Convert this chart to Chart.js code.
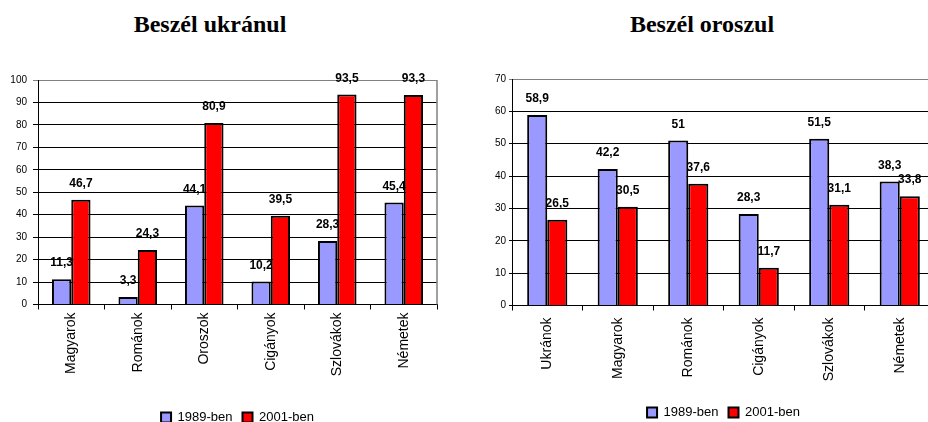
<!DOCTYPE html>
<html lang="hu">
<head>
<meta charset="UTF-8">
<title>Beszél ukránul / Beszél oroszul</title>
<script src="https://cdn.jsdelivr.net/npm/chart.js"></script>
<style>
    body { margin: 0; width: 928px; height: 422px; overflow: hidden; background: #fff; position: relative; }
    .title { position: absolute; top: 10px; line-height: 28px; font-family: "Liberation Serif", "Times New Roman", serif;
             font-weight: bold; font-size: 24px; white-space: nowrap; transform: translateX(-50%); color: #000; }
    .box { position: absolute; top: 0; }
</style>
</head>
<body>
<div class="title" style="left:210px">Beszél ukránul</div>
<div class="title" style="left:702px">Beszél oroszul</div>
<div class="box" style="left:0;width:464px;height:434px"><canvas id="ukranul"></canvas></div>
<div class="box" style="left:464px;width:471px;height:429px"><canvas id="oroszul"></canvas></div>

<script>
// Beszél ukránul
const ukrCategories = ['Magyarok', 'Románok', 'Oroszok', 'Cigányok', 'Szlovákok', 'Németek'];
const ukr1989 = [11.3, 3.3, 44.1, 10.2, 28.3, 45.4];
const ukr2001 = [46.7, 24.3, 80.9, 39.5, 93.5, 93.3];

// Beszél oroszul
const oroCategories = ['Ukránok', 'Magyarok', 'Románok', 'Cigányok', 'Szlovákok', 'Németek'];
const oro1989 = [58.9, 42.2, 51, 28.3, 51.5, 38.3];
const oro2001 = [26.5, 30.5, 37.6, 11.7, 31.1, 33.8];

const seriesNames = ['1989-ben', '2001-ben'];
const FONT = 'Arial, "Liberation Sans", sans-serif';

function drawValues(chart, index) {
    const ctx = chart.ctx;
    const ds = chart.data.datasets[index];
    const meta = chart.getDatasetMeta(index);
    ctx.save();
    ctx.font = 'bold 12px ' + FONT;
    ctx.fillStyle = '#000';
    ctx.textAlign = 'center';
    ctx.textBaseline = 'middle';
    meta.data.forEach((bar, i) => {
        ctx.fillText(String(ds.data[i]).replace('.', ','), bar.x, bar.y - 16);
    });
    ctx.restore();
}

// value labels: one series is written under the bars (partly hidden, as in the original), the other on top
const barLabels = {
    id: 'barLabels',
    beforeDatasetsDraw(chart, args, opts) {
        drawValues(chart, opts.under);
    },
    afterDatasetsDraw(chart, args, opts) {
        drawValues(chart, 1 - opts.under);
    }
};

// grey plot border on the right side
const plotFrame = {
    id: 'plotFrame',
    beforeDatasetsDraw(chart) {
        const a = chart.chartArea, ctx = chart.ctx;
        ctx.save();
        ctx.strokeStyle = '#808080';
        ctx.lineWidth = 1.5;
        ctx.beginPath();
        ctx.moveTo(a.right, a.top);
        ctx.lineTo(a.right, a.bottom);
        ctx.stroke();
        ctx.restore();
    }
};

function makeChart(id, cats, v1989, v2001, o) {
    new Chart(document.getElementById(id), {
        type: 'bar',
        data: {
            labels: cats,
            datasets: [
                { label: seriesNames[0], data: v1989, backgroundColor: '#9999ff', borderColor: '#000', borderWidth: 2 },
                { label: seriesNames[1], data: v2001, backgroundColor: '#ff0000', borderColor: '#000', borderWidth: 2 }
            ]
        },
        options: {
            responsive: true,
            maintainAspectRatio: false,
            animation: false,
            layout: { padding: { top: o.top, right: o.right, left: 0, bottom: 0 } },
            datasets: { bar: { categoryPercentage: o.cat, barPercentage: 1 } },
            plugins: {
                tooltip: { enabled: false },
                barLabels: { under: o.under },
                legend: {
                    position: 'bottom',
                    fullSize: false,
                    labels: { boxWidth: 10, boxHeight: 10, padding: 10, color: '#000', font: { family: FONT, size: 13 } }
                }
            },
            scales: {
                x: {
                    grid: { drawOnChartArea: false, drawTicks: true, tickLength: 5, color: '#000' },
                    border: { color: '#000', width: 1 },
                    ticks: { minRotation: 90, maxRotation: 90, padding: o.xpad, color: '#000', font: { family: FONT, size: 14 } },
                    afterFit: s => { s.height = o.xh; }
                },
                y: {
                    min: 0,
                    max: o.max,
                    grid: {
                        color: c => (c.tick && c.tick.value === o.max) ? '#808080' : '#000',
                        lineWidth: 1,
                        tickLength: o.ytl
                    },
                    border: { color: '#000', width: 1 },
                    ticks: { stepSize: 10, padding: o.ypad, color: '#000', font: { family: FONT, size: 10 } },
                    afterFit: s => { s.width = o.yw; }
                }
            }
        },
        plugins: [barLabels, plotFrame]
    });
}

makeChart('ukranul', ukrCategories, ukr1989, ukr2001,
    { under: 0, top: 80, right: 27, cat: 0.58, max: 100, xh: 96.5, xpad: 3, yw: 38, ytl: 5, ypad: 6 });
makeChart('oroszul', oroCategories, oro1989, oro2001,
    { under: 1, top: 79, right: 0, cat: 0.57, max: 70, xh: 90.5, xpad: 7, yw: 48, ytl: 3, ypad: 3 });
</script>
</body>
</html>
